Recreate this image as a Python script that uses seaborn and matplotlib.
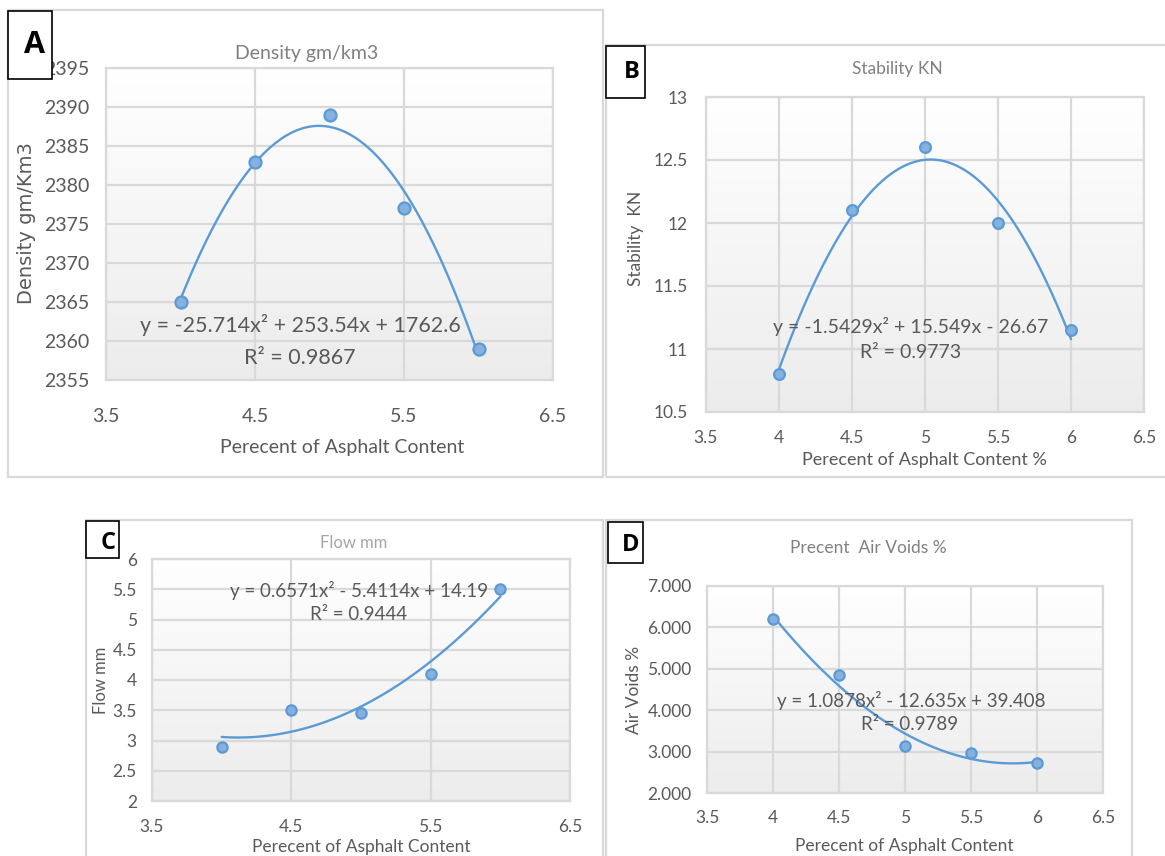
import numpy as np
import matplotlib
matplotlib.use("Agg")
import matplotlib.pyplot as plt
import seaborn as sns
from matplotlib.patches import Rectangle
from matplotlib.ticker import MultipleLocator, FixedLocator, FuncFormatter
from matplotlib.colors import LinearSegmentedColormap

# ---------------- data ----------------
asphalt = [4.0, 4.5, 5.0, 5.5, 6.0]
density = [2365, 2383, 2389, 2377, 2359]
stability = [10.8, 12.1, 12.6, 12.0, 11.15]
flow = [2.9, 3.5, 3.45, 4.1, 5.5]
air_voids = [6.2, 4.85, 3.13, 2.97, 2.73]

titles = ["Density gm/km3", "Stability KN", "Flow mm", "Precent  Air Voids %"]
ylabels = ["Density gm/Km3", "Stability  KN", "Flow mm", "Air Voids %"]
xlabels = ["Perecent of Asphalt Content", "Perecent of Asphalt Content %",
           "Perecent of Asphalt Content", "Perecent of Asphalt Content"]
equations = ["y = -25.714x\u00b2 + 253.54x + 1762.6",
             "y = -1.5429x\u00b2 + 15.549x - 26.67",
             "y = 0.6571x\u00b2 - 5.4114x + 14.19",
             "y = 1.0878x\u00b2 - 12.635x + 39.408"]
r2_texts = ["R\u00b2 = 0.9867", "R\u00b2 = 0.9773", "R\u00b2 = 0.9444", "R\u00b2 = 0.9789"]
panel_letters = ["A", "B", "C", "D"]
xticks_coarse = [3.5, 4.5, 5.5, 6.5]
xticks_fine = [3.5, 4.0, 4.5, 5.0, 5.5, 6.0, 6.5]

sns.set_theme(style="white")
plt.rcParams["font.family"] = ["Lato", "DejaVu Sans"]

W, H = 1165, 856
fig = plt.figure(figsize=(W / 100, H / 100), dpi=100)
fig.patch.set_facecolor("white")


def fx(x):
    return x / W


def fy(y):
    return 1 - y / H


def rect(x0, y0, x1, y1):
    return [x0 / W, 1 - y1 / H, (x1 - x0) / W, (y1 - y0) / H]


GRID = "#d9d9d9"
TXT = "#595959"
LINE = "#5b9bd5"
MFILL = "#85b0df"
grad = LinearSegmentedColormap.from_list("g", ["#ffffff", "#ececec"])

# outer chart frames
frames = [(8, 10, 603, 477), (606, 45, 1175, 477), (86, 520, 603, 870), (606, 520, 1132, 870)]
for (x0, y0, x1, y1) in frames:
    fig.patches.append(Rectangle((fx(x0), fy(y1)), fx(x1 - x0), (y1 - y0) / H,
                                 transform=fig.transFigure, fill=False,
                                 edgecolor=GRID, lw=1.6, zorder=0))

panels = [
    dict(y=density, area=(106, 68, 553, 380), xlim=(3.5, 6.5), xt=xticks_coarse,
         ylim=(2355, 2395), ystep=5, yfmt="{:g}",
         font=["Lato", "DejaVu Sans"], tsize=14,
         title=(307, 53), tcol="#808080", tsz=14,
         xl=(342, 448), xlsz=14, yl=(27, 223), ylsz=14, ylfont=["DejaVu Sans"],
         eq=(300, 325), r2=(300, 358), eqsz=15.5, ypad=12, xpad=20, ms=75,
         box=(8, 11, 52, 79), letter=(34, 45), lsz=22),
    dict(y=stability, area=(706, 97, 1144, 412), xlim=(3.5, 6.5), xt=xticks_fine,
         ylim=(10.5, 13), ystep=0.5, yfmt="{:g}",
         font=["Lato", "DejaVu Sans"], tsize=12.5,
         title=(897, 69), tcol="#808080", tsz=12.5,
         xl=(924, 460), xlsz=13, yl=(636, 238), ylsz=12.5, ylfont=["Lato"],
         eq=(911, 326), r2=(911, 353), eqsz=14, ypad=13, xpad=13, ms=60,
         box=(606, 46, 645, 98), letter=(632, 72), lsz=17),
    dict(y=flow, area=(152, 559, 570, 801), xlim=(3.5, 6.5), xt=xticks_coarse,
         ylim=(2, 6), ystep=0.5, yfmt="{:g}",
         font=["Lato", "DejaVu Sans"], tsize=12.5,
         title=(354, 543), tcol="#a6a6a6", tsz=12,
         xl=(361, 847), xlsz=12.5, yl=(101, 680), ylsz=12, ylfont=["Lato"],
         eq=(359, 590), r2=(359, 614), eqsz=13.5, ypad=11, xpad=13, ms=55,
         box=(86, 521, 119, 558), letter=(108, 543), lsz=17),
    dict(y=air_voids, area=(707, 586, 1103, 793), xlim=(3.5, 6.5), xt=xticks_fine,
         ylim=(2, 7), ystep=1, yfmt="{:.3f}",
         font=["Lato", "DejaVu Sans"], tsize=12.5,
         title=(868, 548), tcol="#808080", tsz=12.5,
         xl=(904, 846), xlsz=12.5, yl=(634, 690), ylsz=12.5, ylfont=["Lato"],
         eq=(911, 700), r2=(910, 725), eqsz=13.5, ypad=11, xpad=12, ms=55,
         box=(608, 522, 643, 563), letter=(631, 545), lsz=17),
]

for i, p in enumerate(panels):
    ax = fig.add_axes(rect(*p["area"]))
    x0, x1 = p["xlim"]
    y0, y1 = p["ylim"]
    ax.imshow(np.linspace(0, 1, 256)[:, None], extent=(x0, x1, y0, y1),
              aspect="auto", cmap=grad, zorder=0, interpolation="bilinear")
    sns.regplot(x=asphalt, y=p["y"], order=2, ci=None, scatter=False,
                truncate=True, ax=ax, line_kws=dict(color=LINE, lw=1.7, zorder=2))
    sns.scatterplot(x=asphalt, y=p["y"], ax=ax, s=p["ms"], color=MFILL,
                    edgecolor=LINE, linewidth=1.6, zorder=3)
    ax.set_xlim(x0, x1)
    ax.set_ylim(y0, y1)
    ax.set_xlabel("")
    ax.set_ylabel("")
    ax.xaxis.set_major_locator(FixedLocator(p["xt"]))
    ax.yaxis.set_major_locator(MultipleLocator(p["ystep"]))
    ax.xaxis.set_major_formatter(FuncFormatter(lambda v, pos: "{:g}".format(round(v, 3))))
    fmt = p["yfmt"]
    ax.yaxis.set_major_formatter(FuncFormatter(lambda v, pos, fmt=fmt: fmt.format(round(v, 3))))
    ax.set_axisbelow(True)
    ax.grid(True, color=GRID, lw=1.6)
    for s in ax.spines.values():
        s.set_color(GRID)
        s.set_linewidth(1.6)
        s.set_visible(True)
    ax.tick_params(length=0, colors=TXT, labelsize=p["tsize"])
    ax.tick_params(axis="y", pad=p["ypad"])
    ax.tick_params(axis="x", pad=p["xpad"])
    for lab in ax.get_xticklabels() + ax.get_yticklabels():
        lab.set_family(p["font"])
        lab.set_color(TXT)
    ax.set_facecolor("white")

    # texts
    fig.text(fx(p["title"][0]), fy(p["title"][1]), titles[i], ha="center", va="center",
             color=p["tcol"], fontsize=p["tsz"], family=p["font"])
    fig.text(fx(p["xl"][0]), fy(p["xl"][1]), xlabels[i], ha="center", va="center",
             color=TXT, fontsize=p["xlsz"], family=p["font"])
    fig.text(fx(p["yl"][0]), fy(p["yl"][1]), ylabels[i], ha="center", va="center",
             rotation=90, color=TXT, fontsize=p["ylsz"], family=p["ylfont"])
    fig.text(fx(p["eq"][0]), fy(p["eq"][1]), equations[i], ha="center", va="center",
             color=TXT, fontsize=p["eqsz"], family=p["font"], zorder=5)
    fig.text(fx(p["r2"][0]), fy(p["r2"][1]), r2_texts[i], ha="center", va="center",
             color=TXT, fontsize=p["eqsz"], family=p["font"], zorder=5)

    # letter box
    bx0, by0, bx1, by1 = p["box"]
    fig.patches.append(Rectangle((fx(bx0), fy(by1)), fx(bx1 - bx0), (by1 - by0) / H,
                                 transform=fig.transFigure, facecolor="white",
                                 edgecolor="black", lw=1.2, zorder=10))
    fig.text(fx(p["letter"][0]), fy(p["letter"][1]), panel_letters[i], ha="center",
             va="center", fontsize=p["lsz"], fontweight="bold", color="black",
             family=["Open Sans", "DejaVu Sans"], zorder=11)

fig.savefig("out.png", dpi=100, facecolor="white")
